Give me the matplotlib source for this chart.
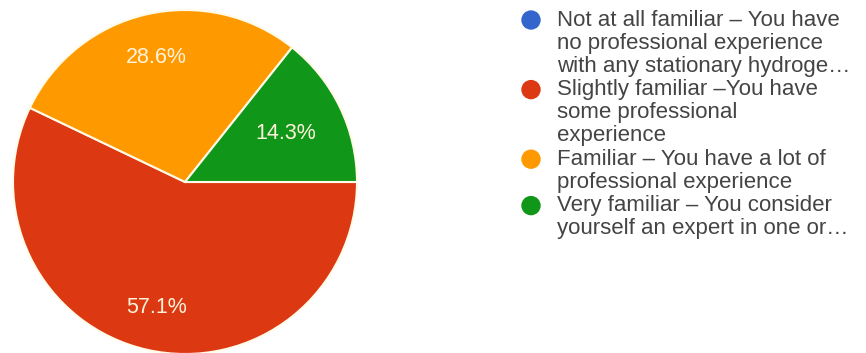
import matplotlib
matplotlib.use("Agg")
import matplotlib.pyplot as plt
import numpy as np

categories = [
    "Not at all familiar \u2013 You have\nno professional experience\nwith any stationary hydroge\u2026",
    "Slightly familiar \u2013You have\nsome professional\nexperience",
    "Familiar \u2013 You have a lot of\nprofessional experience",
    "Very familiar \u2013 You consider\nyourself an expert in one or\u2026",
]
shares = [0.0, 57.1, 28.6, 14.3]
colors = ["#3366CC", "#DC3912", "#FF9900", "#109618"]

plt.rcParams['font.family'] = ['Liberation Sans', 'DejaVu Sans']

W, H = 866, 353
fig = plt.figure(figsize=(W / 100, H / 100), dpi=100)
fig.patch.set_facecolor("white")

cx, cy, r = 185, 171, 172
ax = fig.add_axes([(cx - r) / W, (cy - r) / H, 2 * r / W, 2 * r / H])
vals = [v for v in shares if v > 0]
cols = [c for v, c in zip(shares, colors) if v > 0]
wedges, _ = ax.pie(vals, colors=cols, startangle=0, counterclock=False,
                   wedgeprops=dict(edgecolor="#FFFBE8", linewidth=1.5))
ax.set_xlim(-1, 1)
ax.set_ylim(-1, 1)
ax.set_aspect("equal")
ax.axis("off")

dists = {57.1: 0.75, 28.6: 0.74, 14.3: 0.65}
for w, v in zip(wedges, vals):
    ang = np.deg2rad((w.theta1 + w.theta2) / 2)
    d = dists.get(v, 0.72)
    ax.text(d * np.cos(ang), d * np.sin(ang), f"{v:.1f}%", ha="center", va="center",
            color="#FFF3DC", fontsize=15.5)

# legend
lax = fig.add_axes([0, 0, 1, 1])
lax.set_xlim(0, W)
lax.set_ylim(H, 0)
lax.axis("off")
line_h = 23.2
y = 20
for lab, col in zip(categories, colors):
    lax.scatter([531], [y], s=195, color=col, edgecolors="none")
    for i, line in enumerate(lab.split("\n")):
        lax.text(557, y + i * line_h, line, ha="left", va="center",
                 fontsize=16, color="#444444")
    y += line_h * len(lab.split("\n"))

fig.savefig("out.png", dpi=100, facecolor="white")
